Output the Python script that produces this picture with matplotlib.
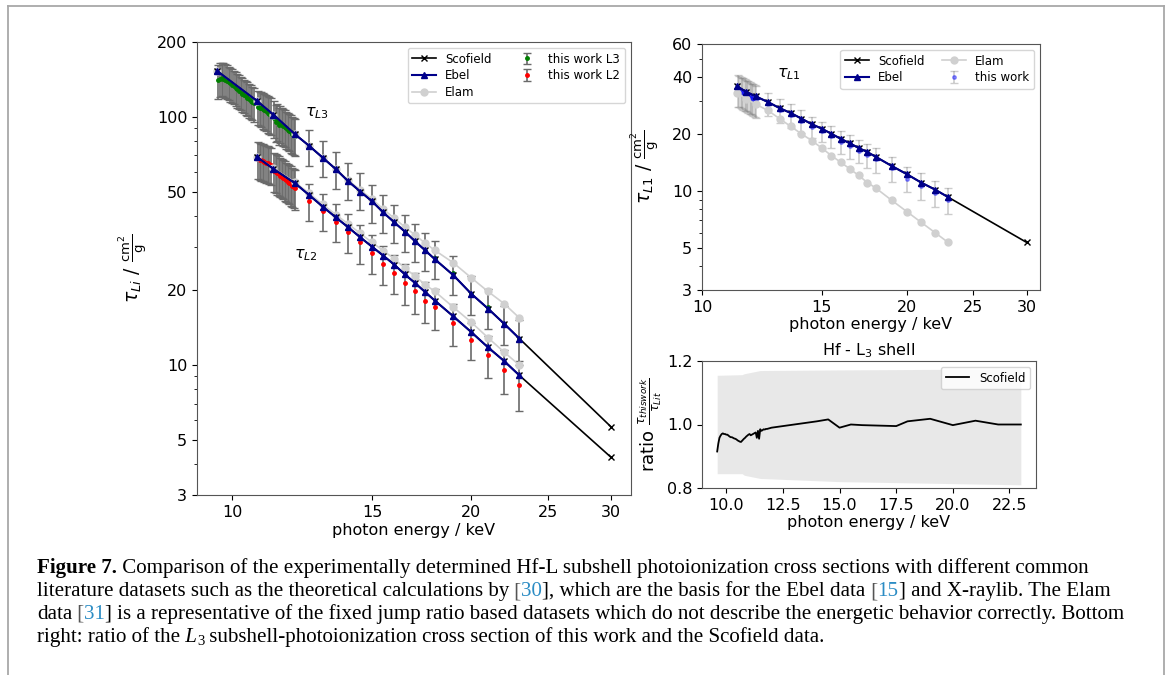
import matplotlib
matplotlib.use("Agg")
import matplotlib.pyplot as plt
import numpy as np
from matplotlib.lines import Line2D
from matplotlib.ticker import FixedLocator, FuncFormatter, LogLocator, NullFormatter, NullLocator

W, H = 1168, 675

# ---- theory curves ----
E_TH_L3 = [9.57, 10.74, 11.27, 12.0, 12.5, 13.0, 13.5, 14.0, 14.5, 15.0, 15.5,
           16.0, 16.5, 17.0, 17.5, 18.0, 19.0, 20.0, 21.0, 22.0, 23.0]
EBEL_L3 = [153, 116, 102, 85, 76.4, 68.5, 61.6, 55.0, 50.0, 45.7, 41.2,
           37.6, 34.5, 31.5, 29.0, 26.7, 23.0, 19.4, 16.9, 14.7, 12.8]
SCO_L3 = [153, 116, 102, 85, 76.4, 68.5, 61.6, 55.0, 50.0, 45.7, 41.2,
          37.6, 34.5, 31.5, 29.0, 26.7, 23.0, 19.4, 16.9, 14.7, 12.8, 5.65]
ELAM_L3 = [153, 116, 102, 85, 76.4, 68.5, 61.8, 55.5, 50.8, 46.6, 42.5,
           39.0, 36.0, 33.4, 31.0, 29.0, 25.8, 22.5, 19.8, 17.7, 15.5]

E_TH_L2 = [10.74, 11.27, 12.0, 12.5, 13.0, 13.5, 14.0, 14.5, 15.0, 15.5,
           16.0, 16.5, 17.0, 17.5, 18.0, 19.0, 20.0, 21.0, 22.0, 23.0]
EBEL_L2 = [69, 61.7, 54, 48.4, 43.5, 39.4, 35.9, 32.7, 30.0, 27.6,
           25.4, 23.2, 21.4, 19.7, 18.2, 15.7, 13.6, 11.8, 10.4, 9.1]
SCO_L2 = [69, 61.7, 54, 48.4, 43.5, 39.4, 35.9, 32.7, 30.0, 27.6,
          25.4, 23.2, 21.4, 19.7, 18.2, 15.7, 13.6, 11.8, 10.4, 9.1, 4.26]
ELAM_L2 = [69, 62, 54.5, 49.2, 44.4, 40.4, 37.0, 33.9, 31.2, 28.9,
           26.8, 24.6, 22.8, 21.1, 19.8, 17.1, 14.9, 12.9, 11.3, 10.0]

E_TH_L1 = [11.27, 11.6, 12.0, 12.5, 13.0, 13.5, 14.0, 14.5, 15.0, 15.5,
           16.0, 16.5, 17.0, 17.5, 18.0, 19.0, 20.0, 21.0, 22.0, 23.0]
EBEL_L1 = [35.8, 33.6, 31.7, 29.6, 27.5, 25.9, 24.2, 22.6, 21.4, 20.1,
           18.9, 17.9, 16.9, 16.1, 15.2, 13.6, 12.3, 11.1, 10.2, 9.3]
SCO_L1 = [35.8, 33.6, 31.7, 29.6, 27.5, 25.9, 24.2, 22.6, 21.4, 20.1,
          18.9, 17.9, 16.9, 16.1, 15.2, 13.6, 12.3, 11.1, 10.2, 9.3, 5.36]
ELAM_L1 = [33.0, 30.8, 28.8, 26.7, 24.2, 22.0, 20.1, 18.5, 16.9, 15.4,
           14.2, 13.1, 12.1, 11.1, 10.4, 8.95, 7.8, 6.84, 6.04, 5.36]

# ---- this work ----
E_L3_MEAS = [9.60, 9.65, 9.70, 9.75, 9.80, 9.85, 9.90, 9.95, 10.00, 10.05, 10.10,
             10.15, 10.20, 10.25, 10.30, 10.35, 10.40, 10.45, 10.50, 10.55, 10.60, 10.65,
             10.78, 10.83, 10.88, 10.93, 10.98, 11.03, 11.08, 11.13, 11.18,
             11.30, 11.35, 11.40, 11.45, 11.50, 11.55, 11.60, 11.65, 11.70, 11.75,
             11.80, 11.85, 11.90, 11.95, 12.00,
             12.5, 13.0, 13.5, 14.0, 14.5, 15.0, 15.5, 16.0, 16.5, 17.0, 17.5,
             18.0, 19.0, 20.0, 21.0, 22.0, 23.0]
TAU_L3_MEAS = [140.0, 142.0, 143.0, 142.3, 141.2, 139.8, 137.8, 136.2, 134.4, 132.7, 130.8,
               128.9, 127.1, 125.7, 124.0, 122.3, 120.8, 119.2, 117.5, 115.9, 114.5, 113.1,
               109.8, 108.9, 108.1, 107.1, 106.2, 105.2, 103.6, 102.5, 101.5,
               98.8, 95.7, 96.5, 92.9, 94.6, 92.8, 91.8, 90.9, 89.7, 88.6,
               87.6, 86.5, 85.6, 84.6, 83.6,
               76.0, 68.5, 61.9, 55.6, 50.8, 45.2, 41.2, 37.5, 34.4, 31.4, 28.9,
               27.0, 23.4, 19.4, 17.1, 14.7, 12.8]
REL_ERR_L3 = [0.155, 0.155, 0.155, 0.155, 0.155, 0.155, 0.155, 0.155, 0.155, 0.155, 0.155,
              0.155, 0.155, 0.155, 0.155, 0.155, 0.155, 0.155, 0.155, 0.155, 0.155, 0.155,
              0.16, 0.16, 0.162, 0.163, 0.164, 0.165, 0.166, 0.167, 0.168,
              0.17, 0.17, 0.17, 0.17, 0.17, 0.17, 0.17, 0.17, 0.17, 0.17,
              0.17, 0.17, 0.17, 0.17, 0.17,
              0.165, 0.165, 0.17, 0.17, 0.17, 0.17, 0.172, 0.172, 0.174, 0.175, 0.175,
              0.176, 0.178, 0.18, 0.18, 0.182, 0.185]

E_L2_MEAS = [10.78, 10.83, 10.88, 10.93, 10.98, 11.03, 11.08, 11.13, 11.18,
             11.30, 11.35, 11.40, 11.45, 11.50, 11.55, 11.60, 11.65, 11.70, 11.75,
             11.80, 11.85, 11.90, 11.95, 12.00,
             12.5, 13.0, 13.5, 14.0, 14.5, 15.0, 15.5, 16.0, 16.5, 17.0, 17.5,
             18.0, 19.0, 20.0, 21.0, 22.0, 23.0]
TAU_L2_MEAS = [67.5, 67.1, 66.7, 66.3, 65.8, 65.4, 65.0, 64.6, 64.2,
               60.5, 60.0, 59.3, 58.7, 58.0, 57.4, 56.7, 56.0, 55.4, 54.8,
               54.1, 53.5, 52.8, 52.2, 51.5,
               45.9, 41.8, 37.8, 34.4, 31.2, 28.3, 25.6, 23.6, 21.5, 19.8, 18.2,
               17.1, 14.8, 12.6, 11.0, 9.6, 8.3]
REL_ERR_L2 = [0.17, 0.17, 0.17, 0.17, 0.17, 0.17, 0.17, 0.17, 0.17,
              0.18, 0.18, 0.18, 0.18, 0.18, 0.18, 0.18, 0.18, 0.18, 0.18,
              0.18, 0.18, 0.18, 0.18, 0.18,
              0.17, 0.17, 0.175, 0.175, 0.18, 0.18, 0.18, 0.18, 0.185, 0.185, 0.19,
              0.19, 0.19, 0.17, 0.19, 0.2, 0.21]

E_L1_MEAS = [11.30, 11.35, 11.40, 11.45, 11.50, 11.55, 11.60, 11.65, 11.70, 11.75,
             11.80, 11.85, 11.90, 11.95, 12.00,
             12.5, 13.0, 13.5, 14.0, 14.5, 15.0, 15.5, 16.0, 16.5, 17.0, 17.5,
             18.0, 19.0, 20.0, 21.0, 22.0, 23.0]
TAU_L1_MEAS = [34.5, 34.2, 33.9, 33.5, 33.2, 32.9, 32.6, 32.3, 32.0, 31.7,
               31.4, 31.1, 30.8, 30.5, 30.2,
               29.0, 26.8, 25.2, 23.5, 21.9, 20.7, 19.5, 18.3, 17.3, 16.3, 15.5,
               14.7, 13.2, 11.6, 10.7, 9.8, 9.0]
REL_ERR_L1 = [0.19, 0.19, 0.19, 0.19, 0.19, 0.19, 0.19, 0.19, 0.19, 0.19,
              0.19, 0.19, 0.19, 0.19, 0.19,
              0.14, 0.14, 0.14, 0.14, 0.13, 0.12, 0.13, 0.14, 0.14, 0.14, 0.15,
              0.15, 0.15, 0.15, 0.16, 0.16, 0.16]

# ---- ratio L3 / Scofield ----
RATIO = [0.915, 0.94, 0.958, 0.965, 0.97, 0.972, 0.97, 0.97, 0.968, 0.968, 0.965,
         0.962, 0.96, 0.96, 0.958, 0.956, 0.955, 0.953, 0.95, 0.948, 0.946, 0.945,
         0.955, 0.958, 0.962, 0.965, 0.968, 0.97, 0.966, 0.968, 0.97,
         0.975, 0.958, 0.98, 0.955, 0.985, 0.98, 0.982, 0.985, 0.984, 0.986,
         0.986, 0.987, 0.988, 0.989, 0.99,
         0.995, 1.0, 1.005, 1.01, 1.016, 0.99, 1.0, 0.998, 0.997, 0.996, 0.995,
         1.01, 1.018, 0.998, 1.012, 1.0, 1.0]
BAND_E = [9.6, 10.7, 10.8, 11.5, 15.0, 23.0]
BAND_HI = [1.155, 1.157, 1.16, 1.17, 1.172, 1.175]
BAND_LO = [0.845, 0.845, 0.84, 0.83, 0.82, 0.81]

CAPTION = [
    [("Figure 7.", "black", "bold", "normal", 1.0, 0),
     (" Comparison of the experimentally determined Hf-L subshell photoionization "
      "cross sections with different common", "black", "normal", "normal", 1.0, 0)],
    [("literature datasets such as the theoretical calculations by", "black", "normal", "normal", 1.0, 0),
     (" [", "#555555", "normal", "normal", 1.0, 0),
     ("30", "#2b8cc4", "normal", "normal", 1.0, 0),
     ("], which are the basis for the Ebel data", "black", "normal", "normal", 1.0, 0),
     (" [", "#555555", "normal", "normal", 1.0, 0),
     ("15", "#2b8cc4", "normal", "normal", 1.0, 0),
     ("] and X-raylib. The Elam", "black", "normal", "normal", 1.0, 0)],
    [("data", "black", "normal", "normal", 1.0, 0),
     (" [", "#555555", "normal", "normal", 1.0, 0),
     ("31", "#2b8cc4", "normal", "normal", 1.0, 0),
     ("] is a representative of the fixed jump ratio based datasets which do not "
      "describe the energetic behavior correctly. Bottom", "black", "normal", "normal", 1.0, 0)],
    [("right: ratio of the", "black", "normal", "normal", 1.0, 0),
     (" L", "black", "normal", "italic", 1.0, 0),
     ("3", "black", "normal", "normal", 0.7, 3),
     (" subshell-photoionization cross section of this work and the Scofield data.",
      "black", "normal", "normal", 1.0, 0)],
]

FS = 11.5
ELAM_C = '#d0d0d0'


def px_box(x0, y0, x1, y1):
    return [x0 / W, 1 - y1 / H, (x1 - x0) / W, (y1 - y0) / H]


def log_axes(ax, yticks):
    ax.set_xscale('log')
    ax.set_yscale('log')
    ax.xaxis.set_major_locator(FixedLocator([10, 15, 20, 25, 30]))
    ax.xaxis.set_major_formatter(FuncFormatter(lambda v, p: f'{v:g}'))
    ax.xaxis.set_minor_locator(NullLocator())
    ax.yaxis.set_major_locator(FixedLocator(yticks))
    ax.yaxis.set_major_formatter(FuncFormatter(lambda v, p: f'{v:g}'))
    ax.yaxis.set_minor_locator(LogLocator(subs=np.arange(2, 10)))
    ax.yaxis.set_minor_formatter(NullFormatter())
    ax.tick_params(labelsize=FS)
    ax.set_xlabel('photon energy / keV', fontsize=FS, labelpad=2)
    for s in ax.spines.values():
        s.set_color('#555555')


fig = plt.figure(figsize=(W / 100, H / 100), dpi=100)
ax = fig.add_axes(px_box(197, 42, 631, 495))
axt = fig.add_axes(px_box(702, 44, 1040, 290))
axr = fig.add_axes(px_box(702, 361, 1036, 488))

eb_kw = dict(fmt='o', ms=2.5, ecolor='#6a6a6a', elinewidth=1.2, capsize=3, capthick=1.0)
leg_kw = dict(fontsize=8.5, handlelength=2.0, borderaxespad=0.5, labelspacing=0.3,
              borderpad=0.4)

# left: L3 and L2
l3 = ax.errorbar(E_L3_MEAS, TAU_L3_MEAS, yerr=np.array(TAU_L3_MEAS) * np.array(REL_ERR_L3),
                 color='green', zorder=2, **eb_kw)
l2 = ax.errorbar(E_L2_MEAS, TAU_L2_MEAS, yerr=np.array(TAU_L2_MEAS) * np.array(REL_ERR_L2),
                 color='red', zorder=2, **eb_kw)
ela, = ax.plot(E_TH_L3, ELAM_L3, 'o-', color=ELAM_C, ms=5, lw=1.2, zorder=2.5)
ax.plot(E_TH_L2, ELAM_L2, 'o-', color=ELAM_C, ms=5, lw=1.2, zorder=2.5)
sco, = ax.plot(E_TH_L3 + [30.0], SCO_L3, 'x-', color='black', ms=5, lw=1.2, zorder=3)
ax.plot(E_TH_L2 + [30.0], SCO_L2, 'x-', color='black', ms=5, lw=1.2, zorder=3)
ebe, = ax.plot(E_TH_L3, EBEL_L3, '^-', color='darkblue', ms=5, lw=1.5, zorder=4)
ax.plot(E_TH_L2, EBEL_L2, '^-', color='darkblue', ms=5, lw=1.5, zorder=4)

log_axes(ax, [3, 5, 10, 20, 50, 100, 200])
ax.set_xlim(9.03, 31.8)
ax.set_ylim(3, 200)
ax.set_ylabel(r'$\tau_{Li}$ / $\frac{\mathrm{cm}^2}{\mathrm{g}}$', fontsize=13.5)
ax.yaxis.set_label_coords((150 - 197) / 434, 0.5)
ax.text(12.8, 103, r'$\tau_{L3}$', fontsize=FS, ha='center', va='center')
ax.text(12.38, 27.7, r'$\tau_{L2}$', fontsize=FS, ha='center', va='center')
ax.legend([sco, ebe, ela, l3, l2],
          ['Scofield', 'Ebel', 'Elam', 'this work L3', 'this work L2'],
          ncol=2, loc='upper right', columnspacing=2.0, **leg_kw)

# top right: L1
l1 = axt.errorbar(E_L1_MEAS, TAU_L1_MEAS, yerr=np.array(TAU_L1_MEAS) * np.array(REL_ERR_L1),
                  color='blue', alpha=0.4, zorder=2, fmt='o', ms=2.5, ecolor='gray',
                  elinewidth=1.2, capsize=3, capthick=1.0)
ela1, = axt.plot(E_TH_L1, ELAM_L1, 'o-', color=ELAM_C, ms=5, lw=1.2, zorder=2.5)
sco1, = axt.plot(E_TH_L1 + [30.0], SCO_L1, 'x-', color='black', ms=5, lw=1.2, zorder=3)
ebe1, = axt.plot(E_TH_L1, EBEL_L1, '^-', color='darkblue', ms=5, lw=1.5, zorder=4)
log_axes(axt, [3, 5, 10, 20, 40, 60])
axt.set_xlim(10, 31.4)
axt.set_ylim(3, 60)
axt.set_ylabel(r'$\tau_{L1}$ / $\frac{\mathrm{cm}^2}{\mathrm{g}}$', fontsize=13.5)
axt.yaxis.set_label_coords((662 - 702) / 338, 0.5)
axt.text(13.43, 41.5, r'$\tau_{L1}$', fontsize=FS, ha='center', va='center')
axt.legend([sco1, ebe1, ela1, l1], ['Scofield', 'Ebel', 'Elam', 'this work'],
           ncol=2, loc='upper right', columnspacing=1.5, **leg_kw)

# bottom right: ratio
axr.fill_between(BAND_E, BAND_LO, BAND_HI, color='lightgray', alpha=0.5, lw=0)
axr.plot(E_L3_MEAS, RATIO, color='black', lw=1.3, label='Scofield')
axr.set_ylim(0.8, 1.2)
axr.set_yticks([0.8, 1.0, 1.2])
axr.tick_params(labelsize=FS)
axr.set_xlabel('photon energy / keV', fontsize=FS, labelpad=2)
axr.set_ylabel(r'ratio $\frac{\tau_{thiswork}}{\tau_{Lit}}$', fontsize=13)
axr.yaxis.set_label_coords((664 - 702) / 334, 0.5)
axr.set_title('Hf - L$_3$ shell', fontsize=FS, pad=4)
axr.legend(loc='upper right', **leg_kw)
for s in axr.spines.values():
    s.set_color('#555555')

# page frame
frame_kw = dict(color='#a8a8a8', lw=1.3, transform=fig.transFigure)
fig.add_artist(Line2D([8 / W, 1164 / W], [1 - 6 / H, 1 - 6 / H], **frame_kw))
fig.add_artist(Line2D([8 / W, 8 / W], [1 - 6 / H, 0], **frame_kw))
fig.add_artist(Line2D([1164 / W, 1164 / W], [1 - 6 / H, 0], **frame_kw))

# caption, pieces laid out one after another
renderer = fig.canvas.get_renderer()


def piece_width(text, size, weight, style):
    t = fig.text(0, 0, text, family='Liberation Serif', fontsize=size,
                 fontweight=weight, fontstyle=style)
    w = t.get_window_extent(renderer).width
    t.remove()
    return w


line3 = ''.join(p[0] for p in CAPTION[2])
cap_size = 13.0 * 1085 / piece_width(line3, 13.0, 'normal', 'normal')

x_start = 37
baselines = [573, 596, 619, 642]
for pieces, yb in zip(CAPTION, baselines):
    x = x_start
    for text, color, weight, style, scale, dy in pieces:
        size = cap_size * scale
        fig.text(x / W, 1 - (yb + dy) / H, text, family='Liberation Serif', fontsize=size,
                 fontweight=weight, fontstyle=style, color=color, va='baseline', ha='left')
        x += piece_width(text, size, weight, style)

fig.savefig('out.png', dpi=100)
